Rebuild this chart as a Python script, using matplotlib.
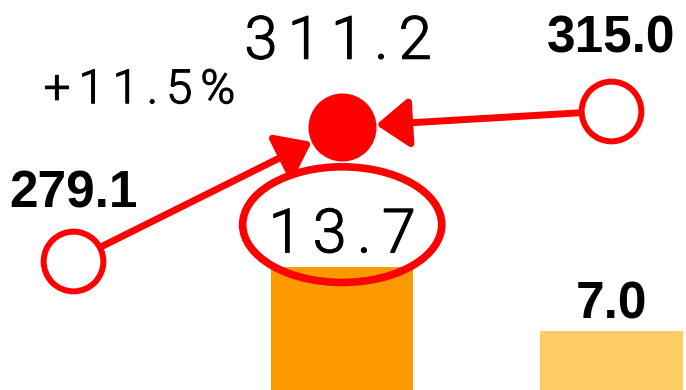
import matplotlib
matplotlib.use("Agg")
from matplotlib import pyplot as plt
from matplotlib.patches import Ellipse
import matplotlib.patheffects as pe

# data
periods = [0, 1, 2]
line_vals = [279.1, 311.2, 315.0]
bar_pos = [1, 2]
bar_vals = [13.7, 7.0]
bar_colors = ["#FF9900", "#FFCC66"]
red = "#FF0000"

# light font, thickened a little with a thin stroke
light = dict(family=["Roboto", "DejaVu Sans"], fontweight=300, color="black",
             path_effects=[pe.withStroke(linewidth=0.8, foreground="black")])
bold = dict(family="Liberation Sans", fontweight="bold", color="black")


def spaced(s):
    # the light labels are drawn with wide letter spacing
    return "\u2006".join(s)


fig = plt.figure(figsize=(6.86, 3.9), dpi=100)
ax = fig.add_axes([0, 0, 1, 1])
ax.set_xlim(-0.272, 2.278)
ax.set_ylim(0.8, 41.6)
ax.axis("off")

# bars
ax.bar(bar_pos, bar_vals, width=0.53, color=bar_colors, zorder=1)
ax.text(bar_pos[0], bar_vals[0] + 1.5, spaced("%.1f" % bar_vals[0]), ha="center",
        va="baseline", fontsize=44, **light)
ax.text(bar_pos[1], bar_vals[1] + 1.3, "%.1f" % bar_vals[1], ha="center", va="baseline",
        fontsize=37, **bold)
ax.add_patch(Ellipse((bar_pos[0], bar_vals[0] + 4.4), 0.74, 12.1, fill=False,
                     edgecolor=red, lw=5.5, zorder=3))

# line
ax2 = ax.twinx()
ax2.set_xlim(-0.272, 2.278)
ax2.set_ylim(248.1, 341.6)
ax2.axis("off")

for i in [0, 2]:
    ax2.annotate("", xy=(periods[1], line_vals[1]), xytext=(periods[i], line_vals[i]),
                 arrowprops=dict(arrowstyle="-|>,head_length=0.4,head_width=0.3",
                                 mutation_scale=50, color=red, lw=5,
                                 shrinkA=24, shrinkB=24.5))

ax2.plot([periods[0], periods[2]], [line_vals[0], line_vals[2]], "o", ls="none",
         ms=43, mfc="white", mec=red, mew=4.3, zorder=5)
ax2.plot([periods[1]], [line_vals[1]], "o", ms=48, mfc=red, mec=red, mew=1, zorder=5)

ax2.annotate("%.1f" % line_vals[0], (periods[0], line_vals[0]), xytext=(0, 38),
             textcoords="offset points", ha="center", va="baseline",
             fontsize=37, **bold)
ax2.annotate("%.1f" % line_vals[2], (periods[2], line_vals[2]), xytext=(0, 42),
             textcoords="offset points", ha="center", va="baseline",
             fontsize=37, **bold)
ax2.annotate(spaced("%.1f" % line_vals[1]), (periods[1], line_vals[1]), xytext=(-3, 49),
             textcoords="offset points", ha="center", va="baseline",
             fontsize=43, **light)
chg = (line_vals[1] / line_vals[0] - 1) * 100
ax2.annotate(spaced("%+.1f%%" % chg), (periods[1], line_vals[1]), xytext=(-146, 17),
             textcoords="offset points", ha="center", va="baseline",
             fontsize=34, **light)

fig.savefig("out.png", dpi=100)
